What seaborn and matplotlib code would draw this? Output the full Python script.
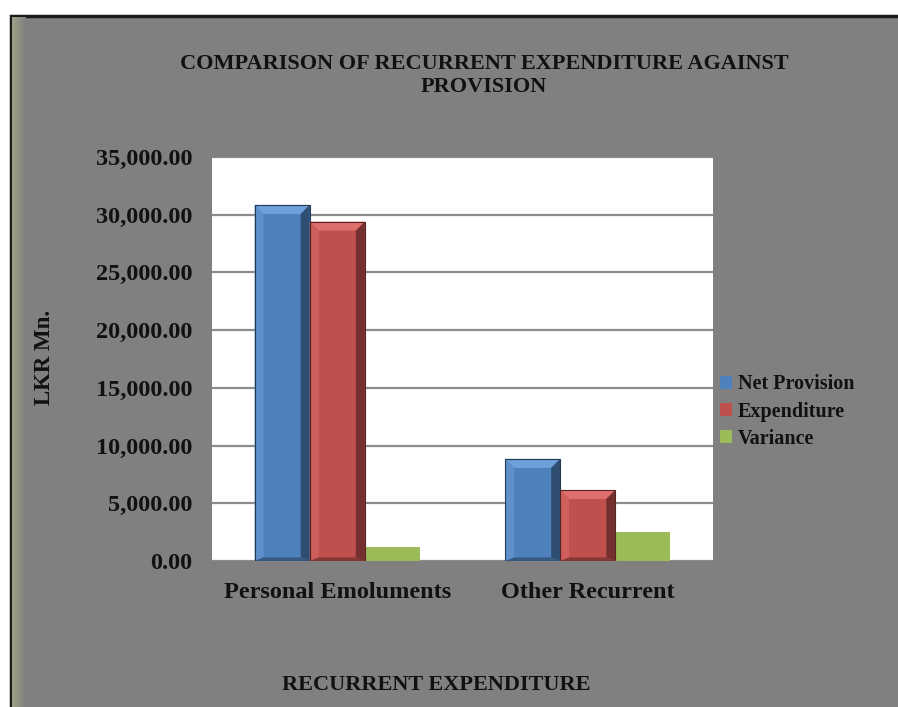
import numpy as np
import pandas as pd
import seaborn as sns
import matplotlib.pyplot as plt
import matplotlib.colors as mcolors
from matplotlib.patches import Rectangle, Polygon
from matplotlib.ticker import FuncFormatter, MultipleLocator

# values (LKR Mn.)
categories = ["Personal Emoluments", "Other Recurrent"]
series = ["Net Provision", "Expenditure", "Variance"]
net_provision = [30850, 8850]
expenditure = [29400, 6150]
variance = [1250, 2550]

colors = ["#4F81BD", "#C0504D", "#9BBB59"]

df = pd.DataFrame({
    "category": categories * 3,
    "series": [s for s in series for _ in categories],
    "value": net_provision + expenditure + variance,
})

sns.set_style("white")
plt.rcParams["font.family"] = ["Liberation Serif", "DejaVu Serif"]
plt.rcParams["font.weight"] = "bold"
plt.rcParams["text.color"] = "#111111"

W, H = 898, 707
fig = plt.figure(figsize=(W / 100, H / 100), dpi=100, facecolor="white")

# grey chart area with black frame (cut off at right and bottom)
fig.patches.append(Rectangle((10.5 / W, -0.05), 1.0, (H - 16) / H + 0.05,
                             transform=fig.transFigure, facecolor="#808080",
                             edgecolor="#1a1a1a", linewidth=2.5, zorder=-5))
# faint greenish shading along the left edge
grad = fig.add_axes([12 / W, 0, 14 / W, (H - 17) / H], zorder=-1)
g = np.linspace(0, 1, 50).reshape(1, -1)
grad.imshow(g, aspect="auto", extent=[0, 1, 0, 1],
            cmap=mcolors.LinearSegmentedColormap.from_list("edge", ["#9ca386", "#808080"]))
grad.axis("off")

ax = fig.add_axes([212 / W, (H - 561) / H, 501 / W, 404 / H], zorder=1)
ax.set_facecolor("white")

sns.barplot(data=df, x="category", y="value", hue="series", order=categories,
            hue_order=series, palette=colors, width=0.66, gap=0, saturation=1,
            edgecolor="none", ax=ax, legend=True, zorder=3)

ax.set_ylim(0, 35000)
ax.set_xlim(-0.5, 1.5)
ax.yaxis.set_major_locator(MultipleLocator(5000))
ax.yaxis.set_major_formatter(FuncFormatter(lambda v, p: f"{v:,.2f}"))
ax.grid(axis="y", color="#8c8c8c", linewidth=1.6, zorder=0)
ax.set_axisbelow(True)
for s in ax.spines.values():
    s.set_visible(False)
ax.tick_params(axis="both", length=0, labelsize=17.5, labelcolor="#111111")
ax.tick_params(axis="y", pad=14)
ax.tick_params(axis="x", pad=15)
for lab in ax.get_xticklabels() + ax.get_yticklabels():
    lab.set_fontweight("bold")
ax.set_xlabel("")
ax.set_ylabel("")

# bevel shading on the blue and red bars
fig.canvas.draw()
to_data = ax.transData.inverted()
for patch, col in zip(ax.patches, [colors[0]] * 2 + [colors[1]] * 2):
    x0, y0 = patch.get_x(), patch.get_y()
    x1, y1 = x0 + patch.get_width(), y0 + patch.get_height()
    (px0, py0), (px1, py1) = ax.transData.transform([(x0, y0), (x1, y1)])
    b = 9
    (ix0, iy0), (ix1, iy1) = to_data.transform([(px0 + b, py0 + b * 0.4), (px1 - b, py1 - b)])
    base = np.array(mcolors.to_rgb(col))
    light = np.clip(base + 0.12, 0, 1)
    lighter = np.clip(base + 0.06, 0, 1)
    dark = base * 0.6
    darker = base * 0.7
    ax.add_patch(Polygon([(x0, y1), (x1, y1), (ix1, iy1), (ix0, iy1)], closed=True,
                         facecolor=light, edgecolor="none", zorder=4))
    ax.add_patch(Polygon([(x0, y0), (x0, y1), (ix0, iy1), (ix0, iy0)], closed=True,
                         facecolor=lighter, edgecolor="none", zorder=4))
    ax.add_patch(Polygon([(x1, y0), (x1, y1), (ix1, iy1), (ix1, iy0)], closed=True,
                         facecolor=dark, edgecolor="none", zorder=4))
    ax.add_patch(Polygon([(x0, y0), (x1, y0), (ix1, iy0), (ix0, iy0)], closed=True,
                         facecolor=darker, edgecolor="none", zorder=4))
    ax.add_patch(Rectangle((x0, y0), x1 - x0, y1 - y0, facecolor="none",
                           edgecolor=base * 0.45, linewidth=0.8, zorder=5))

leg = ax.legend(loc="center left", bbox_to_anchor=(1.014, 0.37), frameon=False,
                handlelength=0.6, handleheight=0.6, handletextpad=0.3,
                labelspacing=0.35, borderaxespad=0, borderpad=0,
                prop={"family": "Liberation Serif", "weight": "bold", "size": 14.5})
for t in leg.get_texts():
    t.set_color("#111111")

fig.text(484 / W, 1 - 75.5 / H, "COMPARISON OF RECURRENT EXPENDITURE AGAINST\nPROVISION",
         ha="center", va="center", fontsize=16, fontweight="bold",
         linespacing=1.25, color="#111111")
fig.text(436 / W, 1 - 685 / H, "RECURRENT EXPENDITURE", ha="center", va="center",
         fontsize=16, fontweight="bold", color="#111111")
fig.text(45 / W, 1 - 357 / H, "LKR Mn.", ha="center", va="center", rotation=90,
         fontsize=16.5, fontweight="bold", color="#111111")

fig.savefig("out.png", dpi=100, facecolor=fig.get_facecolor())
